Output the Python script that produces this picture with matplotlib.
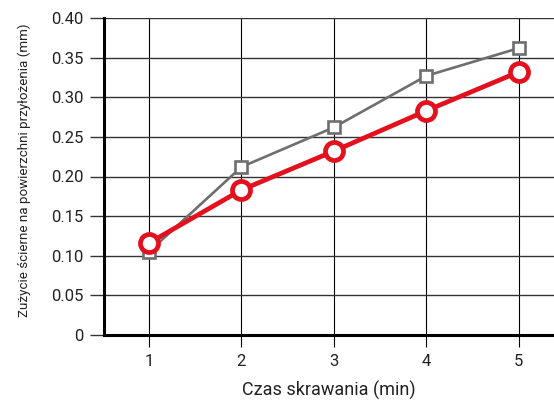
import matplotlib
matplotlib.use("Agg")
import matplotlib.pyplot as plt

# cutting time (min) and wear values
czas = [1, 2, 3, 4, 5]
szare = [0.105, 0.212, 0.262, 0.327, 0.362]
czerwone = [0.116, 0.183, 0.232, 0.283, 0.332]

y_ticks = [0, 0.05, 0.10, 0.15, 0.20, 0.25, 0.30, 0.35, 0.40]
y_labels = ["0", "0.05", "0.10", "0.15", "0.20", "0.25", "0.30", "0.35", "0.40"]

plt.rcParams['font.family'] = ['Roboto', 'DejaVu Sans']

fig = plt.figure(figsize=(5.54, 4.03), dpi=100)
ax = fig.add_axes([104 / 554, 68 / 403, 450 / 554, 317 / 403])

ax.plot(czas, szare, color='#6e6e6e', lw=1.9, marker='s', ms=8,
        mfc='white', mec='#6e6e6e', mew=1.9, zorder=3, clip_on=False)
ax.plot(czas, czerwone, color='#e3101e', lw=3.4, marker='o', ms=13,
        mfc='white', mec='#e3101e', mew=3.4, zorder=4, clip_on=False)

ax.set_xlim(0.515, 5.38)
ax.set_ylim(0, 0.40)
ax.set_xticks(czas)
ax.set_yticks(y_ticks)
ax.set_yticklabels(y_labels)

ax.grid(axis='y', color='#333333', lw=1.0)
ax.grid(axis='x', color='black', lw=0.8)
ax.set_axisbelow(True)

for s in ['top', 'right']:
    ax.spines[s].set_visible(False)
for s in ['left', 'bottom']:
    ax.spines[s].set_linewidth(2.2)
    ax.spines[s].set_zorder(2.5)

ax.tick_params(axis='y', length=10, width=1.0, color='#333333', pad=5,
               labelsize=12, labelcolor='#222222')
ax.tick_params(axis='x', length=8.5, width=0.8, color='black', pad=5,
               labelsize=12, labelcolor='#222222')

ax.set_xlabel('Czas skrawania (min)', fontsize=13, color='#222222', labelpad=9)
ax.set_ylabel('Zużycie ścierne na powierzchni przyłożenia (mm)', fontsize=9.6,
              color='#222222',
              family=['Liberation Sans Narrow', 'Roboto', 'DejaVu Sans'])
ax.yaxis.set_label_coords(-0.163, 0.52)

fig.savefig('out.png', dpi=100)
